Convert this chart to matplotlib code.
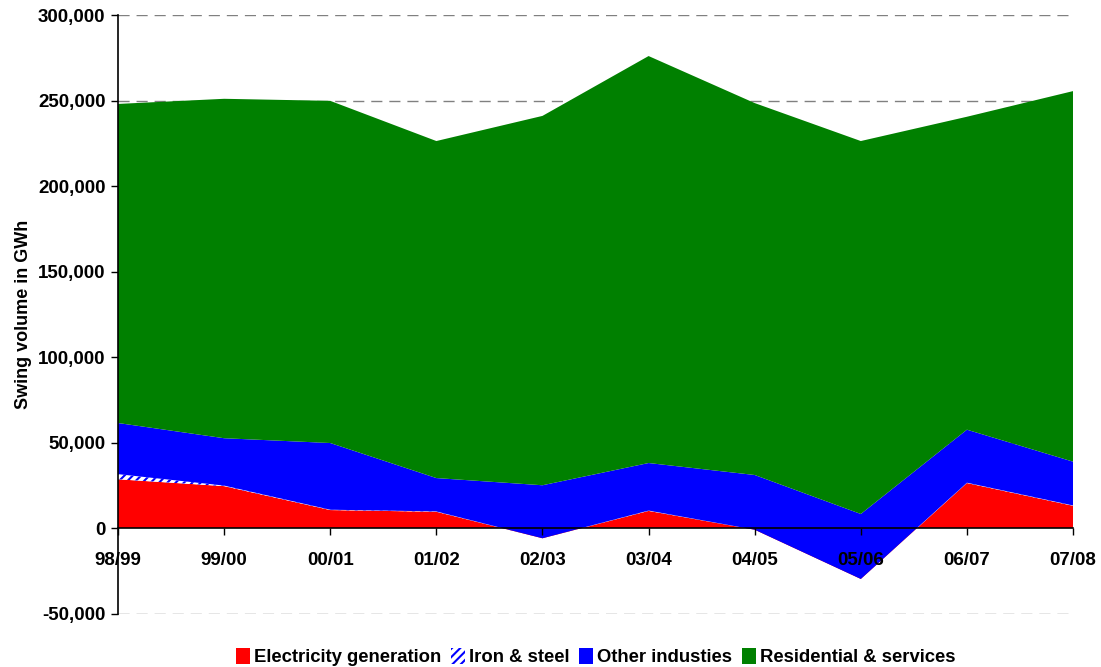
import matplotlib
matplotlib.use("Agg")
import matplotlib.pyplot as plt
import matplotlib.ticker as mticker
from matplotlib.patches import Patch
import numpy as np

plt.rcParams['font.family'] = ['Liberation Sans', 'DejaVu Sans']
plt.rcParams['font.weight'] = 'bold'
plt.rcParams['hatch.linewidth'] = 1.5

years = ["98/99", "99/00", "00/01", "01/02", "02/03", "03/04", "04/05", "05/06", "06/07", "07/08"]
electricity = [28500, 24500, 10500, 9500, -6000, 10000, -1000, -29800, 26300, 13000]
iron_steel = [3000, 300, 200, 200, 0, 200, 0, 0, 200, 200]
other_ind = [29900, 27700, 39000, 19500, 31000, 27800, 32000, 38000, 31000, 25600]
residential = [186600, 198500, 200100, 197100, 216000, 238000, 217500, 218100, 183000, 216700]

series_names = ["Electricity generation", "Iron & steel", "Other industies", "Residential & services"]

fig = plt.figure(figsize=(11.01, 6.67), dpi=100)
ax = fig.add_axes([0.1072, 0.0802, 0.8674, 0.8973])

x = np.arange(len(years))
layers = [electricity, iron_steel, other_ind, residential]
tops = np.cumsum(np.array(layers, dtype=float), axis=0)
bottoms = np.vstack([np.zeros(len(years)), tops[:-1]])

ax.fill_between(x, bottoms[0], tops[0], facecolor="#FF0000", edgecolor="none", zorder=2)
ax.fill_between(x, bottoms[1], tops[1], facecolor="white", edgecolor="#0000FF",
                hatch="////", linewidth=0, zorder=2)
ax.fill_between(x, bottoms[2], tops[2], facecolor="#0000FF", edgecolor="none", zorder=2)
ax.fill_between(x, bottoms[3], tops[3], facecolor="#008000", edgecolor="none", zorder=2)

ax.set_xlim(0, len(years) - 1)
ax.set_ylim(-50000, 300000)
ax.set_yticks(np.arange(-50000, 300001, 50000))
ax.yaxis.set_major_formatter(mticker.FuncFormatter(lambda v, p: f"{int(v):,}"))

for yv in np.arange(-50000, 300001, 50000):
    if yv != 0:
        ax.axhline(yv, color="#808080", linewidth=1, linestyle=(0, (8, 5)), zorder=1)

ax.spines['top'].set_visible(False)
ax.spines['right'].set_visible(False)
ax.spines['bottom'].set_position(('data', 0))
ax.spines['bottom'].set_zorder(3)
ax.spines['left'].set_linewidth(1.2)
ax.spines['bottom'].set_linewidth(1.2)
ax.xaxis.set_zorder(5)

ax.set_xticks(x)
ax.set_xticklabels(years)
ax.tick_params(axis='x', direction='out', length=5, width=1, pad=12, labelsize=13.5)
ax.tick_params(axis='y', direction='out', length=5, width=1, pad=4, labelsize=13.5)
for lbl in ax.get_xticklabels() + ax.get_yticklabels():
    lbl.set_fontweight('bold')

ax.set_ylabel("Swing volume in GWh", fontsize=13, fontweight='bold', labelpad=4)

handles = [
    Patch(facecolor="#FF0000", edgecolor="none"),
    Patch(facecolor="white", edgecolor="#0000FF", hatch="////", linewidth=0),
    Patch(facecolor="#0000FF", edgecolor="none"),
    Patch(facecolor="#008000", edgecolor="none"),
]
fig.legend(handles, series_names, loc="lower center", bbox_to_anchor=(0.541, -0.024), ncol=4,
           frameon=False, handlelength=0.75, handleheight=1.0, handletextpad=0.2,
           columnspacing=0.55, prop={'size': 13.3, 'weight': 'bold'})

fig.savefig("out.png", dpi=100)
